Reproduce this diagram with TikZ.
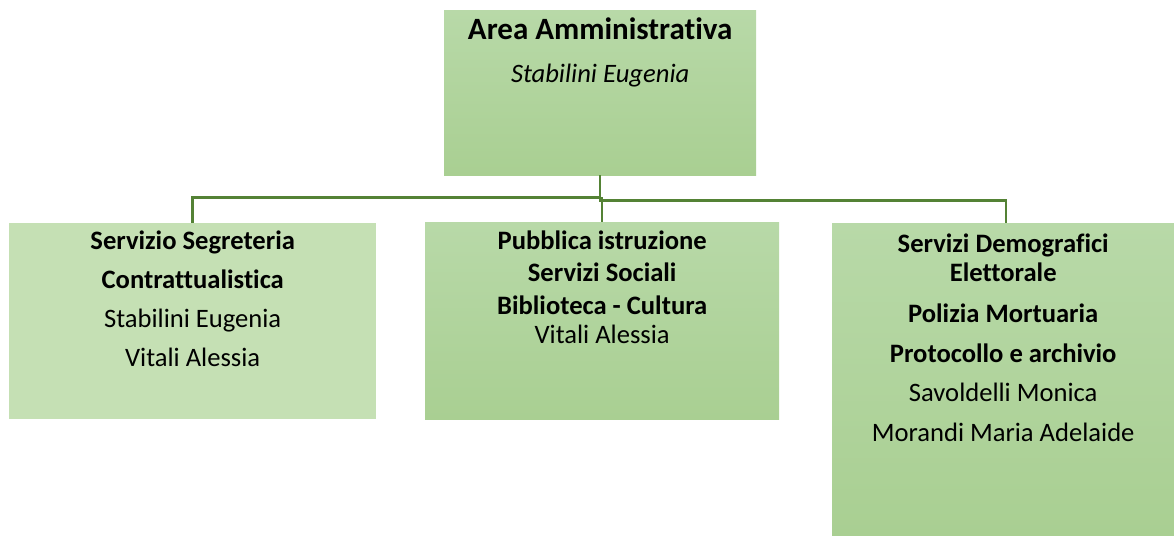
\documentclass[tikz,border=0pt]{standalone}
\usepackage{fontspec}
\setmainfont[Ligatures=NoCommon]{Carlito}
\usetikzlibrary{positioning,calc}
\definecolor{linkgreen}{RGB}{84,130,53}
\definecolor{paletop}{RGB}{197,224,180}
\definecolor{gradtop}{RGB}{184,217,168}
\definecolor{gradbot}{RGB}{169,207,146}
\tikzset{
  unitbox/.style={
    draw=none, top color=gradtop, bottom color=gradbot,
    anchor=north west, inner sep=0pt
  },
  palebox/.style={
    draw=none, fill=paletop,
    anchor=north west, inner sep=0pt
  },
  unittext/.style={
    anchor=north, align=center, inner sep=0pt,
    font=\fontsize{26.6}{29}\selectfont
  },
  linkline/.style={
    draw=linkgreen, line width=2.5pt
  }
}
\begin{document}
\begin{tikzpicture}[x=1pt,y=-1pt]
  \useasboundingbox (0,0) rectangle (1174,535);

  % boxes
  \node[unitbox, minimum width=312pt, minimum height=165pt] (area) at (444,10) {};
  \node[palebox, minimum width=367pt, minimum height=196pt] (segr) at (9,223) {};
  \node[unitbox, minimum width=354pt, minimum height=197pt] (istr) at (425,222) {};
  \node[unitbox, minimum width=342pt, minimum height=312pt] (demo) at (832,223) {};

  % texts
  \node[unittext, font=\fontsize{31}{35}\selectfont] (areatxt) at ($(area.north)+(0,8)$) {
    \textbf{Area Amministrativa}\\[8pt]
    \fontsize{26.6}{29}\selectfont\textit{Stabilini Eugenia}
  };
  \node[unittext] (segrtxt) at ($(segr.north)+(0,8)$) {
    \textbf{Servizio Segreteria}\\[10pt]
    \textbf{Contrattualistica}\\[10pt]
    Stabilini Eugenia\\[10pt]
    Vitali Alessia
  };
  \node[unittext] (istrtxt) at ($(istr.north)+(0,9)$) {
    \textbf{Pubblica istruzione}\\[3pt]
    \textbf{Servizi Sociali}\\[4pt]
    \textbf{Biblioteca - Cultura}\\[0pt]
    Vitali Alessia
  };
  \node[unittext] (demotxt) at ($(demo.north)+(0,11)$) {
    \textbf{Servizi Demografici}\\
    \textbf{Elettorale}\\[12pt]
    \textbf{Polizia Mortuaria}\\[11pt]
    \textbf{Protocollo e archivio}\\[10pt]
    Savoldelli Monica\\[11pt]
    Morandi Maria Adelaide
  };

  % connectors
  \draw[linkline] (area.south) -- ++(0,22) -| (segr.north);
  \draw[linkline] (area.south) -- ++(0,23) -| (istr.north);
  \draw[linkline] (area.south) -- ++(0,25) -| ([xshift=3pt]demo.north);

\end{tikzpicture}
\end{document}
